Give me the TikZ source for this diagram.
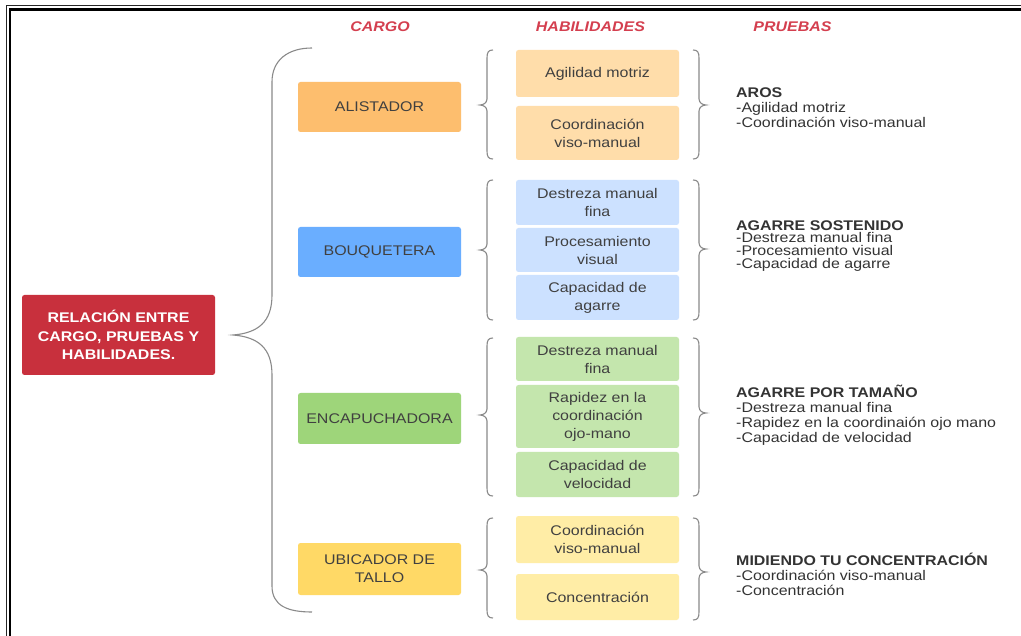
\documentclass[tikz,border=0pt]{standalone}
\usepackage{fontspec}
\setmainfont{Liberation Sans}[FakeStretch=1.14]
\definecolor{redbox}{HTML}{C8303D}
\definecolor{hdr}{HTML}{D43F4F}
\definecolor{txt}{HTML}{404040}
\definecolor{txtb}{HTML}{333333}
\definecolor{braceg}{HTML}{8A8A8A}
\definecolor{cOrange}{HTML}{FDBE6E}
\definecolor{cBlue}{HTML}{6AAEFF}
\definecolor{cGreen}{HTML}{9ED57A}
\definecolor{cYellow}{HTML}{FFD966}
\definecolor{lOrange}{HTML}{FFDDAA}
\definecolor{lBlue}{HTML}{CCE1FF}
\definecolor{lGreen}{HTML}{C4E6AD}
\definecolor{lYellow}{HTML}{FFEDA6}
\tikzset{
  every node/.style={font=\fontsize{14}{18}\selectfont},
  box/.style={rounded corners=2.5pt, minimum width=163pt, inner sep=0pt, align=center, text=txt},
  bracestyle/.style={draw=braceg, line width=1.1pt},
  header/.style={font=\fontsize{14}{16}\selectfont\bfseries\itshape, text=hdr},
  prueba/.style={anchor=north west, align=left, inner sep=0pt, text=txtb},
}
\newcommand\mkbraceL[4]{\draw[bracestyle] (#1+6,#2) .. controls (#1+1.5,#2) and (#1,#2+2) .. (#1,#2+8) -- (#1,#3-6) .. controls (#1,#3-2) and (#1-4,#3) .. (#1-7,#3) .. controls (#1-4,#3) and (#1,#3+2) .. (#1,#3+6) -- (#1,#4-8) .. controls (#1,#4-2) and (#1+1.5,#4) .. (#1+6,#4);}
\newcommand\mkbraceR[4]{\draw[bracestyle] (#1-6,#2) .. controls (#1-1.5,#2) and (#1,#2+2) .. (#1,#2+8) -- (#1,#3-6) .. controls (#1,#3-2) and (#1+4,#3) .. (#1+7,#3) .. controls (#1+4,#3) and (#1,#3+2) .. (#1,#3+6) -- (#1,#4-8) .. controls (#1,#4-2) and (#1-1.5,#4) .. (#1-6,#4);}
\begin{document}
\begin{tikzpicture}[x=1pt, y=-1pt]
\useasboundingbox (0,0) rectangle (1021,636);
\fill[white] (0,0) rectangle (1021,636);
% frame
\draw[line width=1pt, black!85] (6.5,636) -- (6.5,5.5) -- (1021,5.5);
\draw[line width=2.2pt, black] (10,636) -- (10,9.5) -- (1021,9.5);
% headers
\node[header] (hCargo) at (380,27) {CARGO};
\node[header] (hHab) at (590.5,27) {HABILIDADES};
\node[header] (hPru) at (792.5,27) {PRUEBAS};
% main box
\node[box, fill=redbox, minimum width=193pt, minimum height=80pt, text=white,
      font=\fontsize{14}{18.5}\selectfont\bfseries] (rel) at (118.5,335)
      {RELACIÓN ENTRE\\CARGO, PRUEBAS Y\\HABILIDADES.};
% big brace
\draw[bracestyle] (312,48) .. controls (288,48) and (272,60) .. (272,82) -- (272,295)
  .. controls (272,322) and (258,333) .. (233,335)
  .. controls (258,337) and (272,348) .. (272,375) -- (272,586)
  .. controls (272,606) and (288,612) .. (312,612);
% cargo boxes
\node[box, fill=cOrange, minimum height=50pt] (alis) at (379.5,107) {ALISTADOR};
\node[box, fill=cBlue, minimum height=50pt] (bouq) at (379.5,252) {BOUQUETERA};
\node[box, fill=cGreen, minimum height=51pt] (enca) at (379.5,418.5) {ENCAPUCHADORA};
\node[box, fill=cYellow, minimum height=52pt] (ubic) at (379.5,569) {UBICADOR DE\\TALLO};
% habilidades
\node[box, fill=lOrange, minimum height=47pt] (h1) at (597.5,73.5) {Agilidad motriz};
\node[box, fill=lOrange, minimum height=54pt] (h2) at (597.5,133) {Coordinación\\viso-manual};
\node[box, fill=lBlue, minimum height=45pt] (h3) at (597.5,202.5) {Destreza manual\\fina};
\node[box, fill=lBlue, minimum height=44pt] (h4) at (597.5,250) {Procesamiento\\visual};
\node[box, fill=lBlue, minimum height=45pt] (h5) at (597.5,297.5) {Capacidad de\\agarre};
\node[box, fill=lGreen, minimum height=44pt] (h6) at (597.5,359) {Destreza manual\\fina};
\node[box, fill=lGreen, minimum height=63pt] (h7) at (597.5,416.5) {Rapidez en la\\coordinación\\ojo-mano};
\node[box, fill=lGreen, minimum height=45pt] (h8) at (597.5,474.5) {Capacidad de\\velocidad};
\node[box, fill=lYellow, minimum height=47pt] (h9) at (597.5,539.5) {Coordinación\\viso-manual};
\node[box, fill=lYellow, minimum height=46pt] (h10) at (597.5,597) {Concentración};
% small braces
\mkbraceL{487}{50}{105}{159}
\mkbraceL{487}{180}{250}{320}
\mkbraceL{487}{338}{415}{496}
\mkbraceL{487}{518}{570}{618}
\mkbraceR{699}{50}{105}{159}
\mkbraceR{699}{180}{249}{320}
\mkbraceR{699}{338}{413}{496}
\mkbraceR{699}{518}{572}{620}
% pruebas
\node[prueba, font=\fontsize{14}{15}\selectfont] (p1) at (736,83)
  {\rule{0pt}{14pt}\textbf{AROS}\\-Agilidad motriz\\-Coordinación viso-manual};
\node[prueba, font=\fontsize{14}{12.7}\selectfont] (p2) at (736,216)
  {\rule{0pt}{14pt}\textbf{AGARRE SOSTENIDO}\\-Destreza manual fina\\-Procesamiento visual\\-Capacidad de agarre};
\node[prueba, font=\fontsize{14}{15}\selectfont] (p3) at (736,383)
  {\rule{0pt}{14pt}\textbf{AGARRE POR TAMAÑO}\\-Destreza manual fina\\-Rapidez en la coordinaión ojo mano\\-Capacidad de velocidad};
\node[prueba, font=\fontsize{14}{15}\selectfont] (p4) at (736,551)
  {\rule{0pt}{14pt}\textbf{MIDIENDO TU CONCENTRACIÓN}\\-Coordinación viso-manual\\-Concentración};
\end{tikzpicture}
\end{document}
